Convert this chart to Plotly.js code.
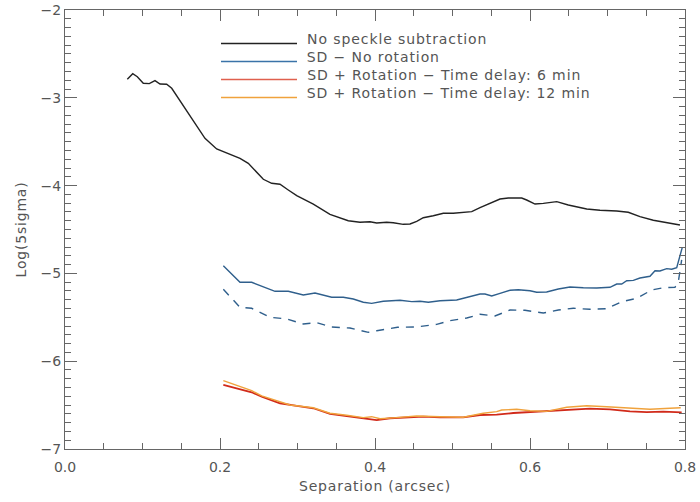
<!DOCTYPE html>
<html>
<head>
<meta charset="utf-8">
<script src="https://cdn.plot.ly/plotly-3.0.1.min.js"></script>
<style>
html,body{margin:0;padding:0;background:#fff;}
#chart{width:700px;height:502px;}
#chart .annotation-text{letter-spacing:0.9px;}
#chart .xtitle,#chart .ytitle{letter-spacing:0.8px;}
</style>
</head>
<body>
<div id="chart"></div>
<script>
// --- Data ---
var seriesNames = ["No speckle subtraction", "SD \u2212 No rotation", "SD + Rotation \u2212 Time delay: 6 min", "SD + Rotation \u2212 Time delay: 12 min"];

var noSubX = [0.0804,0.0874,0.0933,0.1010,0.1088,0.1161,0.1226,0.1312,0.1377,0.1462,0.1548,0.1613,0.1699,0.1806,0.1957,0.2086,0.2258,0.2365,0.2474,0.2559,0.2667,0.2774,0.2881,0.2990,0.3204,0.3419,0.3655,0.3806,0.3935,0.4022,0.4151,0.4236,0.4365,0.4452,0.4538,0.4623,0.4752,0.4881,0.5010,0.5139,0.5248,0.5355,0.5484,0.5613,0.5720,0.5893,0.5957,0.6065,0.6172,0.6345,0.6494,0.6603,0.6732,0.6903,0.7032,0.7119,0.7268,0.7419,0.7591,0.7764,0.7935];
var noSubY = [-2.789,-2.726,-2.760,-2.835,-2.839,-2.805,-2.843,-2.846,-2.892,-3.006,-3.120,-3.215,-3.329,-3.461,-3.583,-3.632,-3.689,-3.746,-3.853,-3.928,-3.974,-3.985,-4.050,-4.115,-4.210,-4.327,-4.400,-4.418,-4.411,-4.426,-4.418,-4.423,-4.441,-4.437,-4.407,-4.366,-4.343,-4.315,-4.315,-4.301,-4.297,-4.252,-4.202,-4.153,-4.141,-4.141,-4.164,-4.210,-4.202,-4.183,-4.221,-4.240,-4.267,-4.281,-4.286,-4.289,-4.304,-4.354,-4.395,-4.423,-4.449];

var noRotX = [0.2043,0.2258,0.2409,0.2559,0.2710,0.2881,0.3075,0.3226,0.3441,0.3591,0.3720,0.3849,0.3957,0.4107,0.4323,0.4474,0.4581,0.4688,0.4839,0.5054,0.5183,0.5355,0.5419,0.5506,0.5613,0.5742,0.5849,0.6000,0.6086,0.6215,0.6365,0.6516,0.6688,0.6861,0.7032,0.7119,0.7183,0.7248,0.7333,0.7419,0.7548,0.7613,0.7677,0.7764,0.7828,0.7893,0.7965];
var noRotY = [-4.912,-5.101,-5.101,-5.151,-5.204,-5.204,-5.246,-5.223,-5.272,-5.272,-5.292,-5.329,-5.341,-5.318,-5.306,-5.322,-5.318,-5.329,-5.311,-5.303,-5.277,-5.235,-5.235,-5.257,-5.227,-5.192,-5.186,-5.197,-5.215,-5.212,-5.178,-5.155,-5.163,-5.166,-5.158,-5.121,-5.121,-5.083,-5.079,-5.052,-5.033,-4.969,-4.973,-4.946,-4.953,-4.935,-4.703];

var noRotDashX = [0.2043,0.2258,0.2409,0.2645,0.2861,0.3075,0.3248,0.3441,0.3677,0.3914,0.4022,0.4290,0.4538,0.4796,0.4968,0.5183,0.5355,0.5548,0.5742,0.5935,0.6172,0.6365,0.6559,0.6774,0.6990,0.7183,0.7377,0.7570,0.7720,0.7871,0.7914,0.7957];
var noRotDashY = [-5.181,-5.386,-5.397,-5.500,-5.519,-5.576,-5.562,-5.610,-5.622,-5.671,-5.653,-5.614,-5.610,-5.580,-5.539,-5.508,-5.466,-5.485,-5.417,-5.420,-5.451,-5.417,-5.397,-5.409,-5.402,-5.322,-5.284,-5.189,-5.163,-5.158,-5.094,-4.847];

var rot6X = [0.2043,0.2258,0.2409,0.2538,0.2774,0.2990,0.3204,0.3419,0.3635,0.3849,0.4022,0.4194,0.4409,0.4623,0.4839,0.5139,0.5355,0.5570,0.5785,0.6000,0.6258,0.6516,0.6774,0.7032,0.7290,0.7506,0.7720,0.7957];
var rot6Y = [-6.271,-6.317,-6.354,-6.404,-6.479,-6.510,-6.536,-6.601,-6.624,-6.650,-6.670,-6.650,-6.639,-6.632,-6.639,-6.639,-6.613,-6.609,-6.590,-6.579,-6.567,-6.556,-6.541,-6.548,-6.571,-6.579,-6.575,-6.582];

var rot12X = [0.2043,0.2258,0.2409,0.2538,0.2752,0.2903,0.3204,0.3419,0.3635,0.3849,0.3957,0.4065,0.4280,0.4538,0.4839,0.5139,0.5397,0.5570,0.5635,0.5828,0.6000,0.6215,0.6474,0.6732,0.6990,0.7290,0.7548,0.7806,0.7945];
var rot12Y = [-6.222,-6.290,-6.336,-6.396,-6.457,-6.499,-6.530,-6.593,-6.616,-6.643,-6.632,-6.655,-6.643,-6.624,-6.632,-6.639,-6.593,-6.575,-6.556,-6.548,-6.564,-6.571,-6.525,-6.507,-6.518,-6.530,-6.548,-6.536,-6.530];

var xTickVals = [0.0, 0.2, 0.4, 0.6, 0.8];
var xTickText = ["0.0", "0.2", "0.4", "0.6", "0.8"];
var yTickVals = [-7, -6, -5, -4, -3, -2];
var yTickText = ["\u22127", "\u22126", "\u22125", "\u22124", "\u22123", "\u22122"];

var colors = ["#222222", "#2f5f8c", "#d12a1a", "#f0a23c"];
var legendColors = ["#222222", "#3a73a8", "#e0604e", "#f0a23c"];

// --- Plot ---
var FONT = "DejaVu Sans";
var TXT = "#555555";
var AX = "#666666";

var traces = [
  {x: noSubX, y: noSubY, mode: "lines", line: {color: colors[0], width: 1.4}, name: seriesNames[0]},
  {x: noRotX, y: noRotY, mode: "lines", line: {color: colors[1], width: 1.4}, name: seriesNames[1]},
  {x: noRotDashX, y: noRotDashY, mode: "lines", line: {color: colors[1], width: 1.4, dash: "8px,7px"}, name: seriesNames[1] + " (dashed)"},
  {x: rot6X, y: rot6Y, mode: "lines", line: {color: colors[2], width: 1.8}, name: seriesNames[2]},
  {x: rot12X, y: rot12Y, mode: "lines", line: {color: colors[3], width: 1.4}, name: seriesNames[3]}
];

function px2paperX(px) { return (px - 65) / 620; }
function px2paperY(py) { return (449 - py) / 439; }

var LETTER_SP = 0.9;
var shapes = [];
var annotations = [];
var lineYs = [43.5, 61.5, 79.5, 97.5];
var textYs = [39, 57, 75, 93];
for (var i = 0; i < 4; i++) {
  shapes.push({type: "line", xref: "paper", yref: "paper",
    x0: px2paperX(221), x1: px2paperX(297), y0: px2paperY(lineYs[i]), y1: px2paperY(lineYs[i]),
    line: {color: legendColors[i], width: 1.4}});
  // compensate the centring shift caused by CSS letter-spacing
  var shift = LETTER_SP * seriesNames[i].length / 2;
  annotations.push({xref: "paper", yref: "paper", x: px2paperX(305 + shift), y: px2paperY(textYs[i]),
    xanchor: "left", yanchor: "middle", showarrow: false, text: seriesNames[i],
    font: {family: FONT, size: 14, color: TXT}});
}

var layout = {
  width: 700, height: 502,
  margin: {l: 65, r: 15, t: 10, b: 53},
  paper_bgcolor: "#ffffff", plot_bgcolor: "#ffffff",
  showlegend: false,
  font: {family: FONT, size: 14, color: TXT},
  xaxis: {
    range: [0, 0.8], tickvals: xTickVals, ticktext: xTickText,
    showgrid: false, zeroline: false, showline: true, linecolor: AX, linewidth: 1,
    mirror: "ticks", ticks: "inside", ticklen: 11, tickcolor: AX, tickwidth: 1,
    ticklabelstandoff: 5,
    minor: {ticks: "inside", ticklen: 6, dtick: 0.05, tickcolor: AX, showgrid: false},
    tickfont: {family: FONT, size: 14, color: TXT},
    title: {text: "Separation (arcsec)", font: {family: FONT, size: 14, color: TXT}, standoff: 7}
  },
  yaxis: {
    range: [-7, -2], tickvals: yTickVals, ticktext: yTickText,
    showgrid: false, zeroline: false, showline: true, linecolor: AX, linewidth: 1,
    mirror: "ticks", ticks: "inside", ticklen: 12, tickcolor: AX, tickwidth: 1,
    minor: {ticks: "inside", ticklen: 6, dtick: 0.1, tickcolor: AX, showgrid: false},
    tickfont: {family: FONT, size: 14, color: TXT},
    title: {text: "Log(5sigma)", font: {family: FONT, size: 14, color: TXT}, standoff: 10}
  },
  shapes: shapes,
  annotations: annotations
};

Plotly.newPlot("chart", traces, layout, {displayModeBar: false, staticPlot: true});
</script>
</body>
</html>
